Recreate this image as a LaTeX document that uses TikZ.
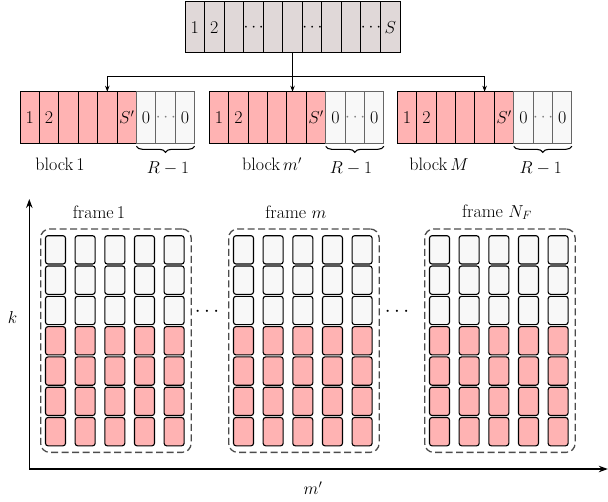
\documentclass[tikz,border=0pt]{standalone}
\usetikzlibrary{arrows.meta,decorations.pathreplacing,calc}
\definecolor{toprow}{RGB}{224,216,216}
\definecolor{pinkc}{RGB}{255,179,179}
\definecolor{grayc}{RGB}{248,248,248}
\begin{document}
\begin{tikzpicture}[x=1pt,y=-1pt,
  bigtxt/.style={font=\fontsize{18}{21}\selectfont},
  midtxt/.style={font=\fontsize{18}{21}\selectfont},
  dotstxt/.style={font=\fontsize{22}{26}\selectfont},
  topcell/.style={draw=black,line width=1pt,fill=toprow,minimum width=19.55pt,minimum height=51pt,inner sep=0pt,outer sep=0pt,anchor=north west,bigtxt},
  pcell/.style={draw=black,line width=1pt,fill=pinkc,minimum width=19.4pt,minimum height=51.6pt,inner sep=0pt,outer sep=0pt,anchor=north west,bigtxt},
  gcell/.style={pcell,draw=black!60,fill=grayc},
  fcellg/.style={draw=black,line width=1.1pt,rounded corners=2.5pt,fill=grayc,minimum width=20pt,minimum height=28.3pt,inner sep=0pt,outer sep=0pt,anchor=north west},
  fcellp/.style={fcellg,fill=pinkc},
  framebox/.style={draw=black!70,dash pattern=on 7pt off 3.5pt,line width=1.3pt,rounded corners=9pt,minimum width=150.5pt,minimum height=223.4pt,inner sep=0pt,anchor=north west},
  conn/.style={line width=0.8pt,-{Stealth[length=6pt,width=4.5pt]}},
  axis/.style={line width=1.2pt,-{Stealth[length=9pt,width=6.5pt]}},
  brc/.style={decorate,decoration={brace,amplitude=6pt},line width=1.1pt}
]
\useasboundingbox (0,0) rectangle (608,501);

% top row
\foreach \i/\t in {1/1,2/2,3/{},4/$\cdots$,5/{},6/{},7/$\cdots$,8/{},9/{},10/$\cdots$,11/$S$}{
  \node[topcell] (t\i) at ({185+(\i-1)*19.55},1.7) {\t};
}

% blocks
\foreach \b/\bx in {1/20,2/209.3,3/397.3}{
  \foreach \j/\t in {1/1,2/2,3/{},4/{},5/{},6/$S'$}{
    \node[pcell] (b\b c\j) at ({\bx+(\j-1)*19.4},91.7) {\t};
  }
  \foreach \j/\t in {7/0,8/{\textcolor{black!50}{$\cdots$}},9/0}{
    \node[gcell] (b\b c\j) at ({\bx+(\j-1)*19.4},91.7) {\t};
  }
  \draw[brc] ($(b\b c9.south east)+(0,3)$) -- ($(b\b c7.south west)+(0,3)$);
}

% connectors
\coordinate (hub) at ($(t6.south)+(0,23.3)$);
\draw[line width=0.8pt] (t6.south) -- (hub);
\draw[conn] (hub) -- (hub |- b2c5.north);
\draw[conn] (hub) -| (b1c5.north);
\draw[conn] (hub) -| (b3c5.north);

% block labels
\node[midtxt] (lb1) at (60,164.5) {block\,1};
\node[midtxt] (lb2) at (272,164.5) {block\,$m'$};
\node[midtxt] (lb3) at (439,164.5) {block\,$M$};
\node[bigtxt] (r1) at (168,168) {$R-1$};
\node[bigtxt] (r2) at (351,168) {$R-1$};
\node[bigtxt] (r3) at (540.7,168) {$R-1$};

% axes
\coordinate (O) at (29.3,469);
\coordinate (ytop) at (29.3,199);
\coordinate (xend) at (607.8,469);
\draw[axis] (O) -- (ytop);
\draw[axis] (O) -- (xend);
\node[font=\fontsize{17}{20}\selectfont] (klab) at (12.5,317) {$k$};
\node[font=\fontsize{17}{20}\selectfont] (mlab) at (313,488) {$m'$};

% frames
\foreach \f/\fx in {1/40,2/228,3/424}{
  \node[framebox] (F\f) at (\fx,228.3) {};
  \foreach \c in {0,...,4}{
    \foreach \r in {0,1,2}{
      \node[fcellg] (f\f r\r c\c) at ({\fx+5.5+\c*29.65},{235.7+\r*30.3}) {};
    }
    \foreach \r in {3,...,6}{
      \node[fcellp] (f\f r\r c\c) at ({\fx+5.5+\c*29.65},{235.7+\r*30.3}) {};
    }
  }
}
\node[midtxt] (fl1) at (99,212) {frame\,1};
\node[midtxt] (fl2) at (296,212) {frame $m$};
\node[midtxt] (fl3) at (497,212) {frame $N_F$};
\node[dotstxt] (d1) at (207,312) {$\cdots$};
\node[dotstxt] (d2) at (397,312) {$\cdots$};
\end{tikzpicture}
\end{document}
